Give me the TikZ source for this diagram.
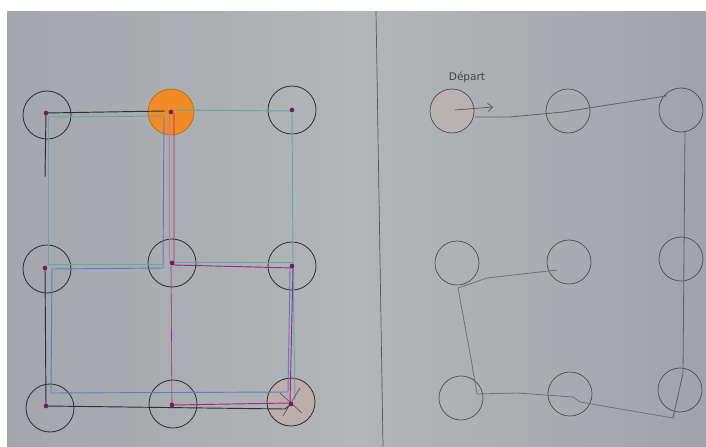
\documentclass[tikz,border=0pt]{standalone}
\usepackage{fontspec}
\setmainfont{DejaVu Sans}
\usetikzlibrary{arrows.meta}
\definecolor{paper}{HTML}{ADB0B3}
\definecolor{paperl}{HTML}{A3A6AA}
\definecolor{paperm}{HTML}{B3B6B9}
\definecolor{paperr}{HTML}{A2A3A9}
\definecolor{ink}{HTML}{2E2E33}
\definecolor{tealpen}{HTML}{5FA8A6}
\definecolor{bluepen}{HTML}{5B7BD2}
\definecolor{purplepen}{HTML}{A0268E}
\definecolor{pinkpen}{HTML}{C07AA8}
\definecolor{pencil}{HTML}{707277}
\definecolor{orangefill}{HTML}{F08B26}
\definecolor{pinkfill}{HTML}{BDAEAE}
\begin{document}
\begin{tikzpicture}[x=0.03cm,y=-0.03cm,
  bigdot/.style={circle,draw=ink,line width=0.7pt,minimum size=1.44cm,inner sep=0pt},
  smalldot/.style={circle,draw=ink!85,line width=0.6pt,minimum size=1.32cm,inner sep=0pt},
  pin/.style={circle,fill=purplepen!70!black,minimum size=4pt,inner sep=0pt},
  blk/.style={draw=ink,line width=0.8pt,line join=round},
  tl/.style={draw=tealpen,line width=0.8pt,line join=round},
  bl/.style={draw=bluepen,line width=0.8pt,line join=round},
  pu/.style={draw=purplepen,line width=0.8pt,line join=round},
  pk/.style={draw=pinkpen,line width=0.6pt,line join=round},
  pcl/.style={draw=pencil,line width=0.7pt,line join=round}]
\fill[white] (0,0) rectangle (706,446);
\shade[left color=paperl,right color=paperr,middle color=paperm] (7,11) rectangle (706,446);
\useasboundingbox (0,0) rectangle (706,446);
% divider
\coordinate (divtop) at (376,11);
\coordinate (divbot) at (383,446);
\draw[ink!80,line width=0.6pt] (divtop) -- (divbot);

% ---------- left grid ----------
\node[bigdot] (L11) at (47,115) {};
\node[bigdot,fill=orangefill,draw=orangefill!80!black,minimum size=1.38cm] (L12) at (171,112) {};
\node[bigdot] (L13) at (292,110) {};
\node[bigdot] (L21) at (47,269) {};
\node[bigdot] (L22) at (172,263) {};
\node[bigdot] (L23) at (292,266) {};
\node[bigdot] (L31) at (50,408) {};
\node[bigdot] (L32) at (173,404) {};
\node[bigdot,fill=pinkfill] (L33) at (291,402) {};

% path vertices
\coordinate (a1) at (46,113);
\coordinate (a2) at (165,111);
\coordinate (a3) at (45,177);
\coordinate (a4) at (45,268);
\coordinate (a5) at (46,406);
\coordinate (a6) at (285,409);
\coordinate (a7) at (291,404);
% teal
\coordinate (t1) at (48,117);
\coordinate (t2) at (165,116);
\coordinate (t3) at (175,110);
\coordinate (t4) at (292,111);
\coordinate (t5) at (293,262);
\coordinate (t6) at (295,400);
\coordinate (t7) at (48,264);
\coordinate (t8) at (162,264);
\coordinate (t9) at (176,262);
% blue
\coordinate (b1) at (164,117);
\coordinate (b2) at (163,268);
\coordinate (b3) at (52,269);
\coordinate (b4) at (51,393);
\coordinate (b5) at (288,392);
\coordinate (b6) at (290,269);
% purple
\coordinate (p1) at (174,113);
\coordinate (p2) at (174,265);
\coordinate (p3) at (293,268);
\coordinate (p4) at (290,403);
\coordinate (p5) at (172,405);
\coordinate (p6) at (171,266);
\coordinate (k1) at (169,114);
\coordinate (k2) at (169,262);
% X mark
\coordinate (x1) at (280,393);
\coordinate (x2) at (302,413);
\coordinate (x3) at (283,416);
\coordinate (x4) at (300,388);

\draw[tl] (t1) -- (t2);
\draw[tl] (t3) -- (t4) -- (t5) -- (t6);
\draw[tl] (t1) -- (t7) -- (t8);
\draw[tl] (t9) -- (t5);
\draw[bl] (b1) -- (b2) -- (b3) -- (b4) -- (b5) -- (b6);
\draw[pk] (k1) -- (k2);
\draw[pu] (p1) -- (p2) -- (p3) -- (p4) -- (p5);
\draw[pu,line width=0.5pt] (p5) -- (p6);
\draw[blk] (a3) -- (a1) -- (a2);
\draw[blk] (a4) -- (a5) -- (a6) -- (a7);
\draw[ink!80,line width=0.6pt] (x1) -- (x2);
\draw[ink!80,line width=0.6pt] (x3) -- (x4);

\foreach \c in {a1,L12,L13,a4,L22,L23,a5,p5,a7} \node[pin] at (\c) {};

% ---------- right grid ----------
\node[smalldot,fill=pinkfill!50!paperm] (R11) at (452,111) {};
\node[smalldot] (R12) at (568,111) {};
\node[smalldot] (R13) at (681,110) {};
\node[smalldot] (R21) at (457,263) {};
\node[smalldot] (R22) at (569,262) {};
\node[smalldot] (R23) at (681,259) {};
\node[smalldot] (R31) at (461,398) {};
\node[smalldot] (R32) at (570,394) {};
\node[smalldot] (R33) at (680,390) {};

\node[text=ink!90,font=\small] (dep) at (467,77) {Départ};
\coordinate (s1) at (455,110);
\coordinate (s2) at (493,107);
\draw[ink!80,line width=0.6pt,-{Straight Barb[length=4pt,width=7pt]}] (s1) -- (s2);

\coordinate (q1) at (475,117);
\coordinate (q2) at (510,117);
\coordinate (q3) at (563,112);
\coordinate (q4) at (666,96);
\coordinate (q5) at (685,132);
\coordinate (q6) at (683,373);
\coordinate (q7) at (673,418);
\coordinate (q8) at (580,402);
\coordinate (q9) at (573,397);
\coordinate (q10) at (517,393);
\coordinate (q11) at (477,394);
\coordinate (q12) at (470,353);
\coordinate (q13) at (458,288);
\coordinate (q14) at (487,278);
\coordinate (q15) at (557,270);
\draw[pcl,draw=ink!75] (q1) -- (q2) -- (q3) -- (q4) -- (R13.north west);
\draw[pcl,draw=ink!75] (q5) -- (q6) -- (q7);
\draw[pcl] (q7) -- (q8) -- (q9) -- (q10) -- (q11) -- (q12) -- (q13) -- (q14) -- (q15);
\end{tikzpicture}
\end{document}
